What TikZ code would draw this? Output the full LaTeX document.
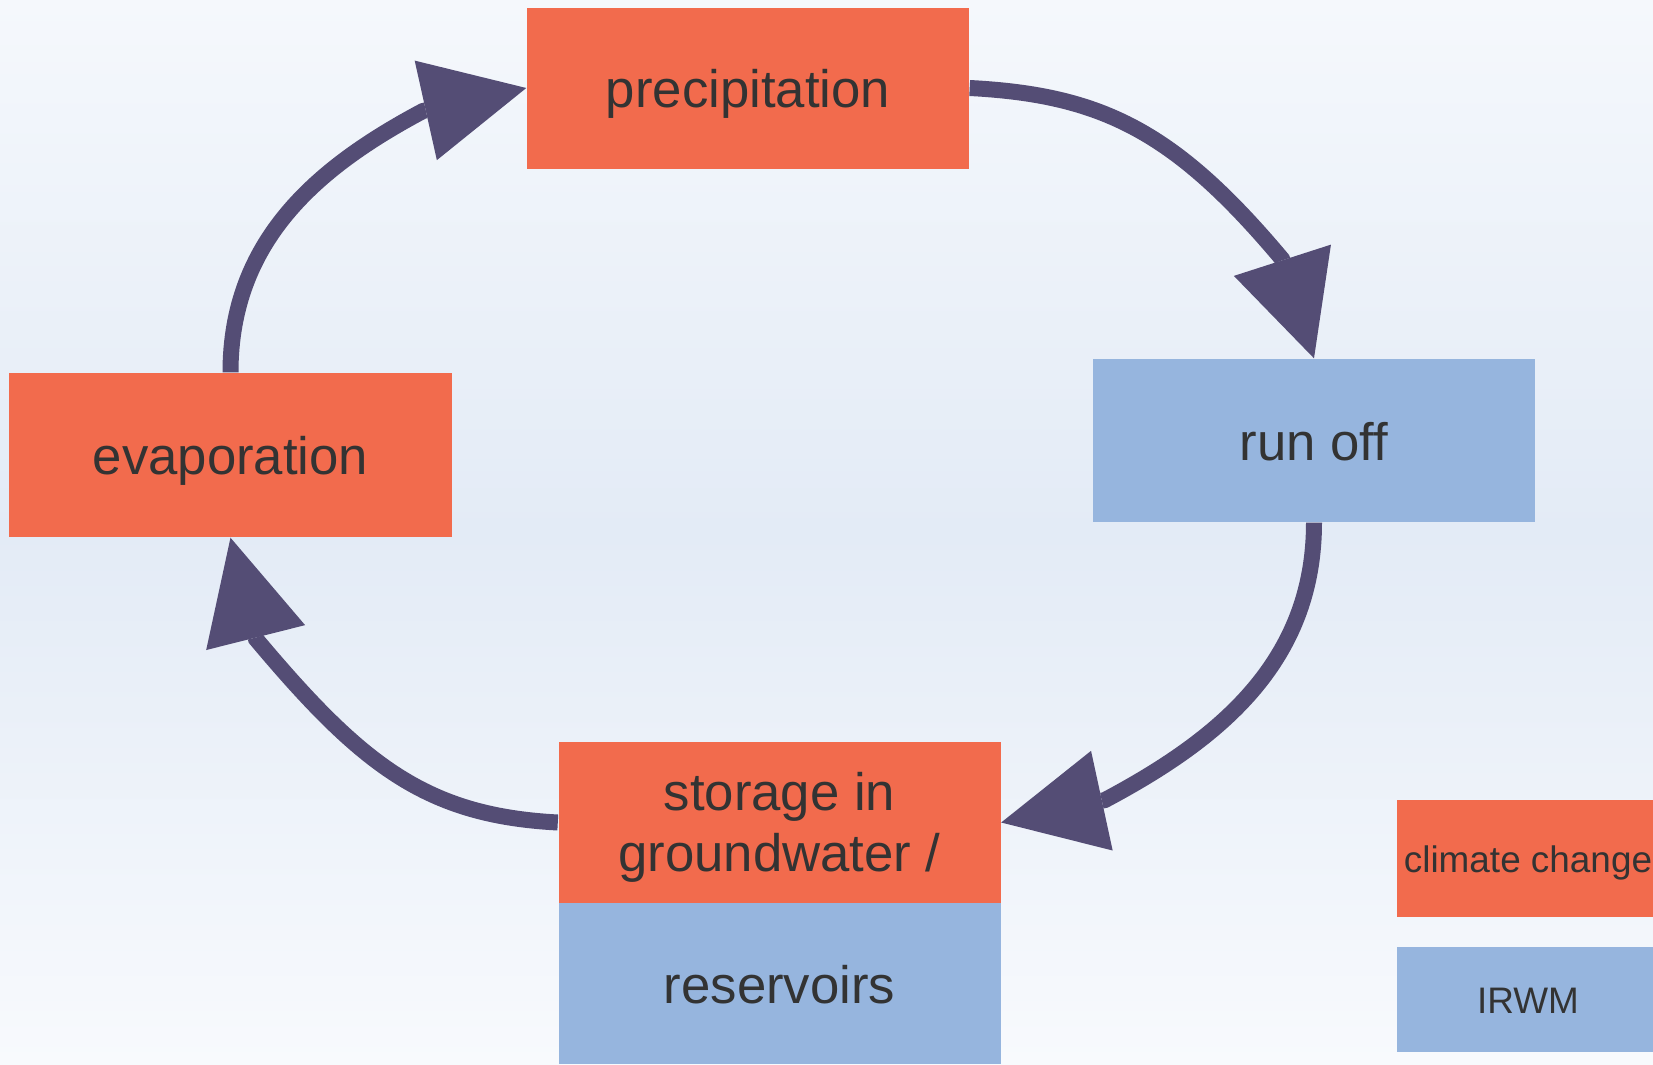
\documentclass[tikz,border=0pt]{standalone}
\usepackage{fontspec}
\setmainfont{Liberation Sans}
\usepackage{xcolor}
\usetikzlibrary{arrows.meta}

\definecolor{hot}{RGB}{242,107,77}
\definecolor{cool}{RGB}{150,181,222}
\definecolor{flow}{RGB}{84,77,117}
\definecolor{ink}{RGB}{51,51,51}
\definecolor{bgtop}{RGB}{245,248,252}
\definecolor{bgmid}{RGB}{227,235,246}
\definecolor{bgbot}{RGB}{248,250,253}

\newcommand{\lowered}[1]{\raisebox{-0.047cm}[\height][\depth]{#1}}

\begin{document}
\begin{tikzpicture}
	[every node/.style={rectangle, text=ink, inner sep=0pt, font=\fontsize{15}{17.4}\selectfont, align=center, text height=0.5cm, text depth=0.105cm}]
	\tikzstyle{climate} = [fill=hot, minimum width=4.42cm, minimum height=1.61cm];
	\tikzstyle{irwm} = [fill=cool, minimum width=4.42cm, minimum height=1.61cm];
	\tikzstyle{legend} = [minimum width=2.62cm, font=\fontsize{10.5}{12}\selectfont, text height=0.35cm, text depth=0.074cm];
	\tikzstyle{edges} = [flow, line width=0.16cm, -{Triangle[length=1.03cm,width=1.02cm,line width=0pt]}];

	\useasboundingbox (0,0) rectangle (16.53,10.64);
	\shade[top color=bgtop, bottom color=bgbot, middle color=bgmid] (0,0) rectangle (16.53,10.64);

	\node[climate] (precip) at (7.48,9.76) {precipitation};
	\node[irwm, minimum height=1.63cm] (runoff) at (13.14,6.235) {run off};
	\node[climate, minimum height=1.64cm] (evap) at (2.305,6.09) {evaporation};
	\node[climate, text height={}, text depth={}] (stor) at (7.795,2.415) {\lowered{storage in}\\\lowered{groundwater /}};
	\node[irwm] (res) at (7.795,0.805) {reservoirs};

	\node[climate, legend, minimum height=1.17cm] (cc) at (15.28,2.055) {climate change};
	\node[irwm, legend, minimum height=1.05cm] (iw) at (15.28,0.645) {IRWM};

	\coordinate (b1) at (4.23,9.53);
	\coordinate (b2) at (12.82,8.05);
	\coordinate (b3) at (11.05,2.64);
	\coordinate (b4) at (2.56,4.25);

	\draw[edges] (evap.north) to[out=90, in=208, out looseness=1.03, in looseness=0.95] (b1) -- (precip.west);
	\draw[edges] (precip.east) to[out=-3, in=130, out looseness=0.95, in looseness=1.2] (b2) -- (runoff.north);
	\draw[edges] (runoff.south) to[out=-90, in=28, out looseness=1.03, in looseness=0.95] (b3) -- (stor.east);
	\draw[edges] (stor.west) to[out=177, in=-50, out looseness=0.95, in looseness=1.2] (b4) -- (evap.south);
\end{tikzpicture}
\end{document}
